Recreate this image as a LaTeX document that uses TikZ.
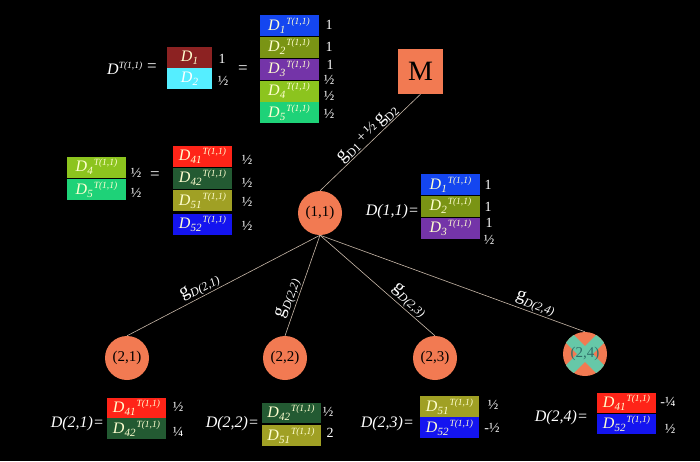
\documentclass[tikz,border=0pt]{standalone}
\usepackage{fontspec}
\setmainfont{Liberation Serif}
\definecolor{cOr}{HTML}{F27A52}
\definecolor{cRed}{HTML}{FF2418}
\definecolor{cDkG}{HTML}{235A32}
\definecolor{cOl}{HTML}{A0A024}
\definecolor{cBlu}{HTML}{1414F0}
\definecolor{cBluB}{HTML}{1446F0}
\definecolor{cOlB}{HTML}{7A9414}
\definecolor{cPur}{HTML}{7434A8}
\definecolor{cLime}{HTML}{8CC41E}
\definecolor{cGrn}{HTML}{1ED278}
\definecolor{cDR}{HTML}{8C2222}
\definecolor{cCy}{HTML}{55EEFF}
\definecolor{btxt}{HTML}{FFFFD0}
\definecolor{cTeal}{HTML}{66C8A8}
\definecolor{cTealT}{HTML}{2F6F6A}
\definecolor{lineC}{HTML}{C8B8A8}
\newcommand{\DT}[1]{{\fontsize{16}{16}\selectfont\itshape D}\raisebox{-3pt}{\fontsize{11}{11}\selectfont\itshape #1}\hspace{1pt}\raisebox{6pt}{\fontsize{9.5}{9.5}\selectfont\itshape T(1,1)}}
\newcommand{\Dsb}[1]{{\fontsize{16}{16}\selectfont\itshape D}\raisebox{-3pt}{\fontsize{11}{11}\selectfont\itshape #1}}
\newcommand{\gsub}[1]{g\raisebox{-4pt}{\fontsize{12}{12}\selectfont\itshape #1}}
\tikzset{
 bx/.style={inner sep=0pt, minimum width=59, minimum height=21, text=btxt},
 lbl/.style={text=white, font=\fontsize{14}{14}\selectfont, inner sep=0pt},
 eqn/.style={text=white, font=\fontsize{16}{16}\selectfont\itshape, inner sep=0pt},
 nd/.style={circle, fill=cOr, minimum size=44, inner sep=0pt, font=\fontsize{15}{15}\selectfont},
 edge/.style={draw=lineC, line width=0.6pt},
 glab/.style={text=white, font=\fontsize{19}{19}\selectfont, inner sep=1pt, sloped, above},
}
\begin{document}
\begin{tikzpicture}[x=1pt,y=-1pt]
\useasboundingbox (0,0) rectangle (700,461);
\fill[black] (0,0) rectangle (700,461);

% ---- top equation
\node[eqn, anchor=base west] (dt) at (107,74) {D\raisebox{6pt}{\fontsize{9.5}{9.5}\selectfont T(1,1)}};
\node[eqn, font=\fontsize{17}{17}\selectfont] (eq1) at (152,68) {=};
\node[bx, fill=cDR, minimum width=45] (t1) at (189.5,57.5) {\Dsb{1}};
\node[bx, fill=cCy, minimum width=45, text=white] (t2) at (189.5,78.5) {\Dsb{2}};
\node[lbl] (tl1) at (222,59) {1};
\node[lbl] (tl2) at (223,81) {½};
\node[eqn, font=\fontsize{17}{17}\selectfont] (eq2) at (243,70) {=};
\node[bx, fill=cBluB] (c1) at (289,25.5) {\DT{1}};
\node[bx, fill=cOlB] (c2) at (289,47) {\DT{2}};
\node[bx, fill=cPur] (c3) at (289,69) {\DT{3}};
\node[bx, fill=cLime] (c4) at (289,91) {\DT{4}};
\node[bx, fill=cGrn] (c5) at (289,112.5) {\DT{5}};
\node[lbl] (cl1) at (329,25) {1};
\node[lbl] (cl2) at (329,47) {1};
\node[lbl] (cl3) at (330,65) {1};
\node[lbl] (cl4) at (329,80) {½};
\node[lbl] (cl5) at (329,96) {½};
\node[lbl] (cl6) at (329,114) {½};

% ---- M box
\node[fill=cOr, minimum size=45, inner sep=0pt, font=\fontsize{28}{28}\selectfont] (M) at (420.5,71.5) {M};

% ---- middle left equation
\node[bx, fill=cLime] (m4) at (96.5,167) {\DT{4}};
\node[bx, fill=cGrn] (m5) at (96.5,189.5) {\DT{5}};
\node[lbl] (ml1) at (136,173) {½};
\node[lbl] (ml2) at (136,193) {½};
\node[eqn, font=\fontsize{17}{17}\selectfont] (eq3) at (155,176) {=};
\node[bx, fill=cRed] (r1) at (202.5,156) {\DT{41}};
\node[bx, fill=cDkG] (r2) at (202.5,178) {\DT{42}};
\node[bx, fill=cOl] (r3) at (202.5,200.5) {\DT{51}};
\node[bx, fill=cBlu] (r4) at (202.5,224) {\DT{52}};
\node[lbl] (rl1) at (247,160) {½};
\node[lbl] (rl2) at (247,183) {½};
\node[lbl] (rl3) at (247,202) {½};
\node[lbl] (rl4) at (247,226) {½};

% ---- tree nodes
\node[nd] (n11) at (320,213) {(1,1)};
\node[nd] (n21) at (127,358) {(2,1)};
\node[nd] (n22) at (285,358) {(2,2)};
\node[nd] (n23) at (435,358) {(2,3)};
\node[nd] (n24) at (585,354) {};
\begin{scope}
\clip (n24.center) circle (22);
\draw[cTeal, line width=11] (n24.center) ++(-26,-26) -- ++(52,52);
\draw[cTeal, line width=11] (n24.center) ++(-26,26) -- ++(52,-52);
\end{scope}
\node[text=cTealT, font=\fontsize{15}{15}\selectfont, inner sep=0pt] (n24t) at (n24.center) {(2,4)};

% ---- connectors
\draw[edge] (M.south) -- node[glab, pos=0.47] (gm) {\gsub{\upshape D1}\,{\fontsize{15}{15}\selectfont+\,½}\,\gsub{\upshape D2}} (n11.north);
\draw[edge] (n11.south) -- node[glab, pos=0.6] (g1) {\gsub{D(2,1)}} (n21.north);
\draw[edge] (n11.south) -- node[glab, pos=0.66] (g2) {\gsub{D(2,2)}} (n22.north);
\draw[edge] (n11.south) -- node[glab, pos=0.72] (g3) {\gsub{D(2,3)}} (n23.north);
\draw[edge] (n11.south) -- node[glab, pos=0.8] (g4) {\gsub{D(2,4)}} (n24.north);

% ---- D(1,1)
\node[eqn, anchor=base east] (e11) at (419,215) {D(1,1)=};
\node[bx, fill=cBluB] (a1) at (450.5,184.5) {\DT{1}};
\node[bx, fill=cOlB] (a2) at (450.5,206) {\DT{2}};
\node[bx, fill=cPur] (a3) at (450.5,228) {\DT{3}};
\node[lbl] (al1) at (488,185) {1};
\node[lbl] (al2) at (488,207) {1};
\node[lbl] (al3) at (489,223) {1};
\node[lbl] (al4) at (489,240) {½};

% ---- bottom equations
\node[eqn, anchor=base east] (e21) at (104,427) {D(2,1)=};
\node[bx, fill=cRed, minimum height=20.5] (b11) at (136.5,408) {\DT{41}};
\node[bx, fill=cDkG, minimum height=20.5] (b12) at (136.5,428.5) {\DT{42}};
\node[lbl] (bl11) at (178,407) {½};
\node[lbl] (bl12) at (178,432) {¼};

\node[eqn, anchor=base east] (e22) at (259,427) {D(2,2)=};
\node[bx, fill=cDkG, minimum height=20.5] (b21) at (291,413) {\DT{42}};
\node[bx, fill=cOl, minimum height=20.5] (b22) at (291,435.5) {\DT{51}};
\node[lbl] (bl21) at (328,412) {½};
\node[lbl] (bl22) at (330,433) {2};

\node[eqn, anchor=base east] (e23) at (414,427) {D(2,3)=};
\node[bx, fill=cOl, minimum height=20.5] (b31) at (449.5,406.5) {\DT{51}};
\node[bx, fill=cBlu, minimum height=20.5] (b32) at (449.5,427.5) {\DT{52}};
\node[lbl] (bl31) at (493,405) {½};
\node[lbl] (bl32) at (492,428) {-½};

\node[eqn, anchor=base east] (e24) at (588,421) {D(2,4)=};
\node[bx, fill=cRed, minimum height=20.5] (b41) at (626.5,403) {\DT{41}};
\node[bx, fill=cBlu, minimum height=20.5] (b42) at (626.5,424) {\DT{52}};
\node[lbl] (bl41) at (668,402) {-¼};
\node[lbl] (bl42) at (670,429) {½};
\end{tikzpicture}
\end{document}
